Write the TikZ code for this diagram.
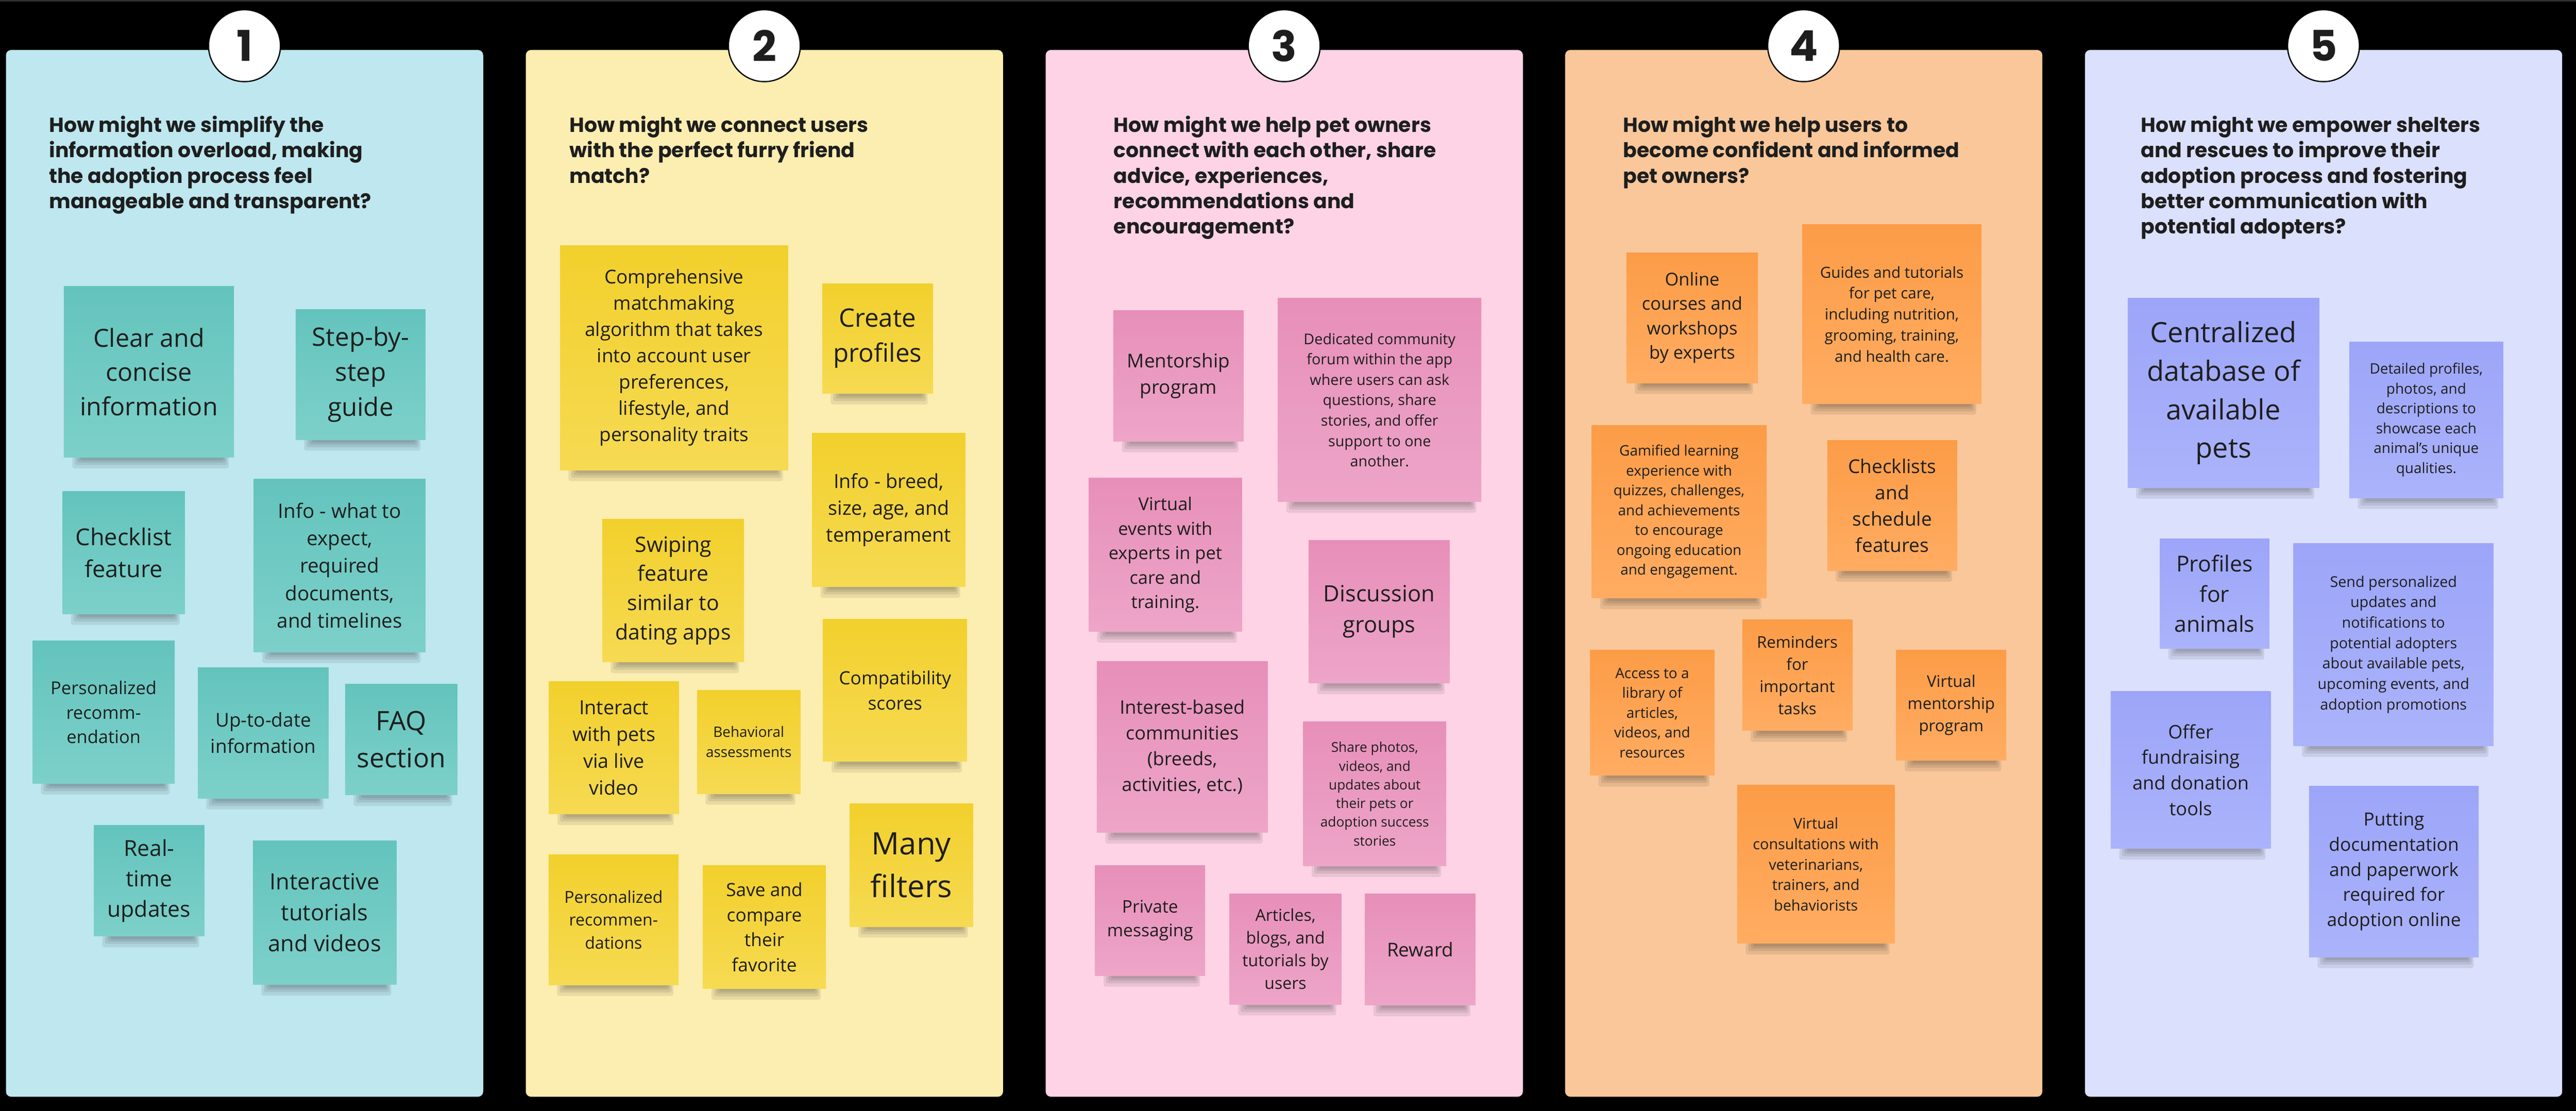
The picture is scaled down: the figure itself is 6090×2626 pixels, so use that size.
\documentclass[tikz,border=0pt]{standalone}
\usepackage{fontspec}
\setmainfont{Open Sans}
\newfontfamily\titlefont{Poppins}
\definecolor{ink}{HTML}{1E1E1E}
\definecolor{bgA}{HTML}{BEE7EF}
\definecolor{bgB}{HTML}{FCEDB0}
\definecolor{bgC}{HTML}{FDD3E5}
\definecolor{bgD}{HTML}{F9C79A}
\definecolor{bgE}{HTML}{DBE0FC}
\definecolor{nAtop}{HTML}{63C4BD}\definecolor{nAbot}{HTML}{7DD0CA}
\definecolor{nBtop}{HTML}{F2D02C}\definecolor{nBbot}{HTML}{F6DA52}
\definecolor{nCtop}{HTML}{E78FB9}\definecolor{nCbot}{HTML}{EDA5C8}
\definecolor{nDtop}{HTML}{FC9C47}\definecolor{nDbot}{HTML}{FFAC62}
\definecolor{nEtop}{HTML}{9CA5F8}\definecolor{nEbot}{HTML}{ABB3FB}
\tikzset{
  panel/.style={rectangle, rounded corners=12pt, inner sep=0pt, anchor=north west,
    minimum width=1128pt, minimum height=2474pt},
  numcircle/.style={circle, fill=white, draw=black, line width=3pt, minimum size=170pt,
    inner sep=0pt, text=ink, font=\titlefont\bfseries\fontsize{100}{100}\selectfont},
  htitle/.style={anchor=north west, align=left, inner sep=0pt, text=ink,
    font=\titlefont\bfseries\fontsize{48}{60}\selectfont},
  stickybox/.style={rectangle, inner sep=0pt, align=center, text=ink},
}
\newcommand\sticky[8]{%
  \pgfmathsetmacro\sw{#4-#2}%
  \pgfmathsetmacro\sh{#5-#3}%
  \pgfmathsetmacro\lh{#7*1.38}%
  \foreach \dep/\il/\ir in {26/20/12, 18/26/16, 12/32/20, 7/38/24}{%
    \fill[black, opacity=0.08, rounded corners=5pt] ({#2+\il},{#5-2}) rectangle ({#4-\ir},{#5+\dep});}%
  \node[stickybox, top color=#6top, bottom color=#6bot, minimum width=\sw pt,
    minimum height=\sh pt, font=\fontsize{#7}{\lh}\selectfont]
    (#1) at ({(#2+#4)/2},{(#3+#5)/2}) {#8};%
}
\begin{document}
\begin{tikzpicture}[x=1pt, y=-1pt]
\fill[black] (0,0) rectangle (6090,2626);
\useasboundingbox (0,0) rectangle (6090,2626);
\fill[black!82] (0,0) rectangle (6090,4);
% panels
\node[panel, fill=bgA] (p1) at (14,118) {};
\node[panel, fill=bgB] (p2) at (1243,118) {};
\node[panel, fill=bgC] (p3) at (2472,118) {};
\node[panel, fill=bgD] (p4) at (3700,118) {};
\node[panel, fill=bgE] (p5) at (4929,118) {};
% number circles
\node[numcircle] (c1) at (578,108) {1};
\node[numcircle] (c2) at (1807,108) {2};
\node[numcircle] (c3) at (3036,108) {3};
\node[numcircle] (c4) at (4264,108) {4};
\node[numcircle] (c5) at (5493,108) {5};
% titles
\node[htitle] (h1) at (116,274) {How might we simplify the\\information overload, making\\the adoption process feel\\manageable and transparent?};
\node[htitle] (h2) at (1346,274) {How might we connect users\\with the perfect furry friend\\match?};
\node[htitle] (h3) at (2633,274) {How might we help pet owners\\connect with each other, share\\advice, experiences,\\recommendations and\\encouragement?};
\node[htitle] (h4) at (3837,274) {How might we help users to\\become confident and informed\\pet owners?};
\node[htitle] (h5) at (5061,274) {How might we empower shelters\\and rescues to improve their\\adoption process and fostering\\better communication with\\potential adopters?};
% panel 1
\sticky{a1}{151}{677}{553}{1081}{nA}{59}{Clear and\\concise\\information}
\sticky{a2}{699}{731}{1006}{1039}{nA}{60}{Step-by-\\step\\guide}
\sticky{a3}{148}{1161}{437}{1451}{nA}{55}{Checklist\\feature}
\sticky{a4}{600}{1132}{1006}{1541}{nA}{47}{Info - what to\\expect,\\required\\documents,\\and timelines}
\sticky{a5}{77}{1515}{413}{1852}{nA}{42}{Personalized\\recomm-\\endation}
\sticky{a6}{468}{1578}{777}{1887}{nA}{45}{Up-to-date\\information}
\sticky{a7}{816}{1617}{1081}{1879}{nA}{63}{FAQ\\section}
\sticky{a8}{222}{1951}{483}{2213}{nA}{52}{Real-\\time\\updates}
\sticky{a9}{598}{1987}{937}{2327}{nA}{53}{Interactive\\tutorials\\and videos}
% panel 2
\sticky{b1}{1324}{580}{1863}{1111}{nB}{45}{Comprehensive\\matchmaking\\algorithm that takes\\into account user\\preferences,\\lifestyle, and\\personality traits}
\sticky{b2}{1944}{670}{2205}{930}{nB}{60}{Create\\profiles}
\sticky{b3}{1920}{1024}{2282}{1387}{nB}{46}{Info - breed,\\size, age, and\\temperament}
\sticky{b4}{1424}{1227}{1759}{1565}{nB}{50}{Swiping\\feature\\similar to\\dating apps}
\sticky{b5}{1298}{1611}{1605}{1924}{nB}{46}{Interact\\with pets\\via live\\video}
\sticky{b6}{1648}{1631}{1892}{1876}{nB}{34}{Behavioral\\assessments}
\sticky{b7}{1946}{1463}{2286}{1800}{nB}{43}{Compatibility\\scores}
\sticky{b8}{2009}{1899}{2300}{2190}{nB}{73}{Many\\filters}
\sticky{b9}{1297}{2020}{1604}{2328}{nB}{39}{Personalized\\recommen-\\dations}
\sticky{b10}{1662}{2046}{1952}{2337}{nB}{43}{Save and\\compare\\their\\favorite}
% panel 3
\sticky{d1}{2632}{734}{2940}{1043}{nC}{45}{Mentorship\\program}
\sticky{d2}{3021}{705}{3502}{1186}{nC}{35}{Dedicated community\\forum within the app\\where users can ask\\questions, share\\stories, and offer\\support to one\\another.}
\sticky{d3}{2574}{1130}{2936}{1493}{nC}{42}{Virtual\\events with\\experts in pet\\care and\\training.}
\sticky{d4}{3094}{1277}{3427}{1615}{nC}{53}{Discussion\\groups}
\sticky{d5}{2593}{1563}{2997}{1968}{nC}{44}{Interest-based\\communities\\(breeds,\\activities, etc.)}
\sticky{d6}{3081}{1706}{3419}{2047}{nC}{32}{Share photos,\\videos, and\\updates about\\their pets or\\adoption success\\stories}
\sticky{d7}{2589}{2045}{2849}{2306}{nC}{41}{Private\\messaging}
\sticky{d8}{2907}{2112}{3171}{2374}{nC}{39}{Articles,\\blogs, and\\tutorials by\\users}
\sticky{d9}{3227}{2112}{3488}{2376}{nC}{45}{Reward}
% panel 4
\sticky{f1}{3845}{597}{4156}{905}{nD}{42}{Online\\courses and\\workshops\\by experts}
\sticky{f2}{4261}{531}{4684}{954}{nD}{36}{Guides and tutorials\\for pet care,\\including nutrition,\\grooming, training,\\and health care.}
\sticky{f3}{3763}{1005}{4176}{1414}{nD}{34}{Gamified learning\\experience with\\quizzes, challenges,\\and achievements\\to encourage\\ongoing education\\and engagement.}
\sticky{f4}{4320}{1041}{4627}{1349}{nD}{45}{Checklists\\and\\schedule\\features}
\sticky{f5}{3759}{1537}{4053}{1833}{nD}{34}{Access to a\\library of\\articles,\\videos, and\\resources}
\sticky{f6}{4119}{1465}{4379}{1727}{nD}{38}{Reminders\\for\\important\\tasks}
\sticky{f7}{4483}{1537}{4743}{1797}{nD}{38}{Virtual\\mentorship\\program}
\sticky{f8}{4107}{1856}{4479}{2230}{nD}{35}{Virtual\\consultations with\\veterinarians,\\trainers, and\\behaviorists}
% panel 5
\sticky{g1}{5030}{705}{5483}{1153}{nE}{66}{Centralized\\database of\\available\\pets}
\sticky{g2}{5554}{808}{5918}{1177}{nE}{34}{Detailed profiles,\\photos, and\\descriptions to\\showcase each\\animal's unique\\qualities.}
\sticky{g3}{5106}{1273}{5365}{1533}{nE}{52}{Profiles\\for\\animals}
\sticky{g4}{5422}{1284}{5895}{1763}{nE}{35}{Send personalized\\updates and\\notifications to\\potential adopters\\about available pets,\\upcoming events, and\\adoption promotions}
\sticky{g5}{4990}{1634}{5368}{2006}{nE}{44}{Offer\\fundraising\\and donation\\tools}
\sticky{g6}{5459}{1858}{5860}{2262}{nE}{43}{Putting\\documentation\\and paperwork\\required for\\adoption online}
\end{tikzpicture}
\end{document}
